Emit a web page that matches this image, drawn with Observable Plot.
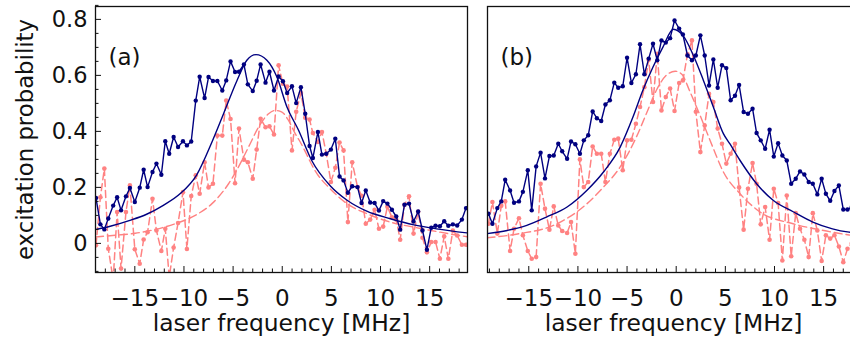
<!DOCTYPE html>
<html><head><meta charset="utf-8">
<script src="https://cdn.jsdelivr.net/npm/d3@7"></script>
<script src="https://cdn.jsdelivr.net/npm/@observablehq/plot@0.6"></script>
<style>
body{margin:0;background:#fff;}
#wrap{position:relative;width:850px;height:348px;overflow:hidden;background:#fff;}
#wrap svg{position:absolute;top:0;}
</style></head><body><div id="wrap"></div>
<script>
// ---- panel (a) measured data ----
const freqA = [-18.95,-18.5,-18.1,-17.7,-17.2,-16.8,-16.4,-15.9,-15.5,-15.0,-14.5,-14.1,-13.7,-13.2,-12.8,-12.3,-11.9,-11.5,-11.05,-10.6,-10.1,-9.7,-9.26,-8.8,-8.4,-7.9,-7.5,-7.05,-6.6,-6.1,-5.7,-5.26,-4.8,-4.4,-3.9,-3.5,-3.0,-2.6,-2.2,-1.7,-1.3,-0.84,-0.37,0.07,0.5,0.99,1.42,1.9,2.34,2.78,3.12,3.63,4.04,4.48,4.95,5.4,5.83,6.24,6.68,7.12,7.66,8.07,8.5,8.95,9.4,9.84,10.27,10.7,11.16,11.6,12.0,12.44,12.9,13.36,13.83,14.27,14.72,15.16,15.6,16.04,16.48,16.9,17.36,17.8,18.28,18.7];
const blueA = [0.162,0.068,0.05,0.089,0.135,0.165,0.118,0.168,0.198,0.148,0.199,0.263,0.201,0.255,0.285,0.245,0.365,0.32,0.38,0.344,0.365,0.35,0.364,0.51,0.595,0.519,0.594,0.58,0.58,0.546,0.582,0.65,0.612,0.613,0.639,0.568,0.544,0.581,0.639,0.574,0.613,0.546,0.596,0.579,0.537,0.561,0.501,0.558,0.463,0.348,0.305,0.398,0.317,0.32,0.335,0.374,0.239,0.225,0.181,0.204,0.201,0.144,0.189,0.146,0.144,0.117,0.151,0.142,0.12,0.096,0.049,0.138,0.142,0.078,0.114,0.046,-0.023,0.056,0.063,0.061,0.079,0.063,0.068,0.064,0.085,0.126];
const pinkA = [-0.007,0.165,0.267,-0.019,-0.13,0.112,-0.09,0.112,0.207,-0.021,-0.073,0.014,0.04,0.159,0.046,-0.027,0.052,-0.12,-0.015,0.073,0.183,-0.02,0.169,0.243,0.177,0.29,0.2,0.213,0.385,0.385,0.51,0.444,0.215,0.41,0.299,0.29,0.231,0.335,0.445,0.415,0.418,0.389,0.636,0.57,0.56,0.332,0.47,0.537,0.449,0.442,0.394,0.362,0.398,0.32,0.219,0.27,0.36,0.332,0.076,0.29,0.201,0.17,0.07,0.085,0.12,0.052,0.06,0.131,0.093,0.085,0.013,0.138,0.168,0.035,0.113,0.02,-0.032,0.005,0.005,-0.055,0.025,-0.055,0.046,0.028,-0.005,-0.005];
// fitted curves (a)
const fitBlueAx = [-19,-17.5,-15.5,-13.8,-12.1,-10.4,-8.7,-7.15,-5.97,-4.6,-3.6,-2.68,-1.56,-0.54,0.48,1.66,3.0,4.9,6.6,8.6,11.0,13.4,15.7,18.9];
const fitBlueAy = [0.049,0.061,0.082,0.104,0.136,0.177,0.245,0.362,0.463,0.582,0.654,0.674,0.654,0.594,0.487,0.404,0.296,0.205,0.154,0.115,0.088,0.066,0.052,0.037];
const fitPinkAx = [-19,-17,-14.95,-12.9,-10.9,-8.85,-7.15,-5.46,-4.45,-3.43,-2.41,-1.39,-0.71,-0.03,0.64,1.32,1.83,3.53,4.88,6.58,8.62,10.99,13.36,16.07,18.9];
const fitPinkAy = [0.023,0.029,0.036,0.05,0.07,0.1,0.142,0.213,0.273,0.344,0.415,0.463,0.475,0.469,0.439,0.392,0.362,0.249,0.195,0.142,0.106,0.076,0.058,0.04,0.023];

// ---- panel (b) measured data ----
const freqB = [-19.1,-18.7,-18.2,-17.8,-17.4,-16.9,-16.5,-16.0,-15.6,-15.1,-14.7,-14.25,-13.8,-13.35,-12.9,-12.46,-12.0,-11.6,-11.1,-10.7,-10.26,-9.8,-9.4,-8.95,-8.5,-8.07,-7.63,-7.2,-6.75,-6.3,-5.9,-5.44,-5.0,-4.56,-4.1,-3.68,-3.24,-2.8,-2.36,-1.93,-1.5,-1.06,-0.62,-0.17,0.3,0.68,1.15,1.6,2.0,2.46,2.9,3.34,3.78,4.22,4.66,5.1,5.54,5.98,6.4,6.86,7.3,7.77,8.18,8.6,9.05,9.5,9.93,10.37,10.8,11.25,11.7,12.16,12.6,13.04,13.48,13.9,14.36,14.8,15.23,15.67,16.1,16.55,17.0,17.43,17.87,18.3];
const blueB = [0.106,0.07,0.126,0.15,0.227,0.189,0.145,0.15,0.184,0.261,0.118,0.275,0.324,0.232,0.312,0.314,0.356,0.329,0.302,0.364,0.354,0.32,0.368,0.386,0.471,0.447,0.437,0.496,0.511,0.574,0.556,0.561,0.663,0.573,0.604,0.711,0.604,0.66,0.713,0.654,0.725,0.717,0.733,0.796,0.767,0.746,0.671,0.654,0.671,0.743,0.671,0.564,0.657,0.556,0.636,0.626,0.511,0.527,0.566,0.469,0.463,0.481,0.394,0.368,0.338,0.406,0.31,0.358,0.314,0.296,0.213,0.231,0.257,0.246,0.219,0.213,0.175,0.231,0.177,0.152,0.187,0.207,0.121,0.121,0.13,0.14];
const pinkB = [0.07,0.148,0.035,0.134,0.15,-0.027,0.052,0.09,0.029,-0.027,-0.055,-0.049,0.213,0.124,0.049,0.132,0.064,0.044,0.037,0.076,-0.037,0.3,0.201,0.219,0.346,0.32,0.32,0.219,0.32,0.37,0.374,0.261,0.368,0.37,0.427,0.487,0.558,0.656,0.505,0.677,0.475,0.523,0.553,0.473,0.573,0.582,0.675,0.725,0.47,0.326,0.421,0.534,0.505,0.41,0.356,0.285,0.32,0.356,0.2,0.049,0.195,0.287,0.213,0.068,0.13,0.013,0.195,0.144,-0.061,0.171,-0.046,0.108,0.052,0.013,-0.049,0.108,0.046,-0.063,0.029,0.017,0.029,-0.011,-0.067,-0.019,0.0,0.02];
const fitBlueBx = [-19.25,-17.2,-15.2,-13.2,-11.1,-9.1,-7.4,-5.7,-4.4,-3.4,-2.36,-1.35,-0.3,0.74,1.75,2.77,3.78,4.8,5.47,6.5,8.18,9.86,11.9,13.9,15.9,17.6,18.7];
const fitBlueBy = [0.035,0.046,0.064,0.094,0.13,0.189,0.255,0.344,0.451,0.546,0.63,0.701,0.765,0.74,0.671,0.582,0.487,0.392,0.355,0.296,0.213,0.154,0.113,0.076,0.052,0.04,0.036];
const fitPinkBx = [-19.25,-15.9,-12.5,-9.1,-7.4,-5.7,-4.05,-3.04,-2.03,-1.01,-0.1,0.6,1.35,2.36,3.72,4.73,6.5,8.5,11.9,15.3,17.6,18.7];
const fitPinkBy = [0.02,0.035,0.064,0.141,0.201,0.273,0.38,0.463,0.546,0.6,0.615,0.603,0.546,0.463,0.344,0.26,0.177,0.113,0.07,0.044,0.03,0.026];

// ---- axes / labels ----
const yMajor = [0, 0.2, 0.4, 0.6, 0.8];
const yMinor = [-0.1,-0.05,0.05,0.1,0.15,0.25,0.3,0.35,0.45,0.5,0.55,0.65,0.7,0.75,0.85];
const xMajor = [-15, -10, -5, 0, 5, 10, 15];
const xMinor = [-19,-18,-17,-16,-14,-13,-12,-11,-9,-8,-7,-6,-4,-3,-2,-1,1,2,3,4,6,7,8,9,11,12,13,14,16,17,18];
const panelLabels = ["(a)", "(b)"];
const xTitle = "laser frequency [MHz]";
const yTitle = "excitation probability";

const navy = "#000080", salmon = "#ff8282";
const FONT = "DejaVu Sans";
const yDomain = [-0.104, 0.846];

function zip(xs, ys) { return xs.map((x, i) => ({x, y: ys[i]})); }

function panel({freq, blue, pink, fbx, fby, fpx, fpy, xDomain, label, showY}) {
  const data = zip(freq, blue), pdat = zip(freq, pink);
  const fb = zip(fbx, fby), fp = zip(fpx, fpy);
  const marks = [
    Plot.line(fp, {x: "x", y: "y", curve: "monotone-x", stroke: salmon, strokeWidth: 1.4, strokeDasharray: "8,4", clip: true}),
    Plot.line(pdat, {x: "x", y: "y", stroke: salmon, strokeWidth: 1.5, strokeDasharray: "7,4", clip: true}),
    Plot.dot(pdat, {x: "x", y: "y", r: 2.3, fill: salmon, clip: true}),
    Plot.line(fb, {x: "x", y: "y", curve: "monotone-x", stroke: navy, strokeWidth: 1.4, clip: true}),
    Plot.line(data, {x: "x", y: "y", stroke: navy, strokeWidth: 1.4, clip: true}),
    Plot.dot(data, {x: "x", y: "y", r: 2.2, fill: navy, clip: true}),
    Plot.frame({stroke: "#111", strokeWidth: 1.3}),
    Plot.axisX({ticks: xMajor, tickSize: -6, tickPadding: 23, tickFormat: d => d < 0 ? "\u2212" + Math.abs(d) : String(d), fontSize: 23, label: null, stroke: "#111"}),
    Plot.axisX({ticks: xMinor, tickSize: -3.5, tickFormat: () => "", label: null, stroke: "#111"}),
    Plot.text([label], {frameAnchor: "top-left", dx: 13, dy: 42, text: d => d, fontSize: 23, textAnchor: "start", fill: "#111"}),
    Plot.text([xTitle], {frameAnchor: "bottom", dy: 58, text: d => d, fontSize: 23.4, textAnchor: "middle", fill: "#111"})
  ];
  if (showY) {
    marks.push(
      Plot.axisY({ticks: yMajor, tickSize: -6, tickPadding: 14, tickFormat: d => d === 0 ? "0" : d3.format(".1f")(d), fontSize: 22.5, label: null, stroke: "#111"}),
      Plot.axisY({ticks: yMinor, tickSize: -3.5, tickFormat: () => "", label: null, stroke: "#111"}),
      Plot.text([yTitle], {frameAnchor: "left", dx: -70, rotate: -90, text: d => d, fontSize: 22.8, textAnchor: "middle", fill: "#111"})
    );
  } else {
    marks.push(Plot.axisY({ticks: [], label: null}));
  }
  return Plot.plot({
    width: 480, height: 348,
    marginLeft: 95, marginRight: 13, marginTop: 6, marginBottom: 76,
    x: {domain: xDomain},
    y: {domain: yDomain},
    style: {fontFamily: FONT, fontSize: "22px", background: "transparent", overflow: "visible", color: "#111"},
    marks
  });
}

const wrap = document.getElementById("wrap");
const a = panel({freq: freqA, blue: blueA, pink: pinkA, fbx: fitBlueAx, fby: fitBlueAy, fpx: fitPinkAx, fpy: fitPinkAy, xDomain: [-19, 18.85], label: panelLabels[0], showY: true});
a.style.left = "0px";
const b = panel({freq: freqB, blue: blueB, pink: pinkB, fbx: fitBlueBx, fby: fitBlueBy, fpx: fitPinkBx, fpy: fitPinkBy, xDomain: [-19.2, 18.65], label: panelLabels[1], showY: false});
b.style.left = "392px";
wrap.appendChild(a);
wrap.appendChild(b);
</script>
</body></html>
